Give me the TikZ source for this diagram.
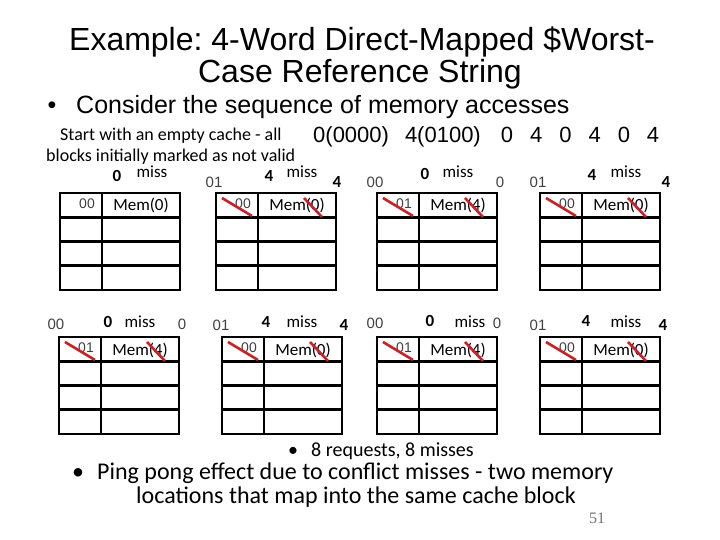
\documentclass[tikz,border=0pt]{standalone}
\usepackage{fontspec}
\setmainfont{Liberation Sans}
\newfontfamily\calib{Carlito}
\newfontfamily\pagefont{Liberation Serif}
\usetikzlibrary{positioning,calc}
\definecolor{strikered}{RGB}{204,32,39}
\frenchspacing

\begin{document}
\begin{tikzpicture}[x=1pt,y=-1pt,
  cachegrid/.style={line width=2.6pt},
  strike/.style={line width=2.6pt,draw=strikered},
  titletxt/.style={font=\fontsize{32}{36}\selectfont,anchor=base,inner sep=0pt},
  point/.style={font=\fontsize{25}{28}\selectfont,anchor=base west,inner sep=0pt},
  note/.style={font=\calib\fontsize{18}{20}\selectfont,anchor=base west,inner sep=0pt},
  seqtxt/.style={font=\fontsize{22}{24}\selectfont,anchor=base west,inner sep=0pt},
  tagtxt/.style={font=\fontsize{14}{14}\selectfont,text=black!75,anchor=base east,inner sep=0pt},
  memtxt/.style={font=\calib\fontsize{17}{17}\selectfont,anchor=base,inner sep=0pt},
  addr/.style={font=\calib\bfseries\fontsize{17}{17}\selectfont,anchor=base,inner sep=0pt},
  misstxt/.style={font=\calib\fontsize{17}{17}\selectfont,anchor=base,inner sep=0pt},
  idx/.style={font=\fontsize{15}{15}\selectfont,text=black!75,anchor=base,inner sep=0pt},
  summary/.style={font=\calib\fontsize{24}{26}\selectfont,inner sep=0pt}
]
\useasboundingbox (0,0) rectangle (720,540);

% title and the access sequence
\node[titletxt] (title1) at (362,51) {Example: 4-Word Direct-Mapped \$Worst-};
\node[titletxt] (title2) at (360,83) {Case Reference String};
\node[point,anchor=base] (dot1) at (52,114) {•};
\node[point] (consider) at (76,114) {Consider the sequence of memory accesses};
\node[note] (start) at (60,141) {Start with an empty cache - all};
\node[note] (blocks) at (46,162) {blocks initially marked as not valid};
\node[seqtxt] (seq) at (313,143) {0(0000)\hspace{16pt}4(0100)\hspace{20pt}0\hspace{17pt}4\hspace{17pt}0\hspace{17pt}4\hspace{17pt}0\hspace{17pt}4};

% eight cache snapshots: name/left/top/tag/block
\foreach \n/\l/\t/\tg/\m in {1/60/193/00/0, 2/216/193/00/0, 3/377/193/01/4, 4/540/193/00/0,
                             5/59/337/01/4, 6/222/337/00/0, 7/377/337/01/4, 8/540/337/00/0}{
  \coordinate (g\n) at (\l,\t);
  \draw[cachegrid] (g\n) rectangle ++(120,97);
  \draw[cachegrid] ($(g\n)+(42,0)$) -- ++(0,97);
  \foreach \r in {1,2,3}
    \draw[cachegrid] ($(g\n)+(0,24.25*\r)$) -- ++(120,0);
  \node[tagtxt] (tag\n) at ($(g\n)+(35,15)$) {\tg};
  \node[memtxt] (mem\n) at ($(g\n)+(81,18)$) {Mem(\m)};
}
% replaced entries
\foreach \n in {2,...,8}{
  \draw[strike] ($(g\n)+(6,5)$) -- ($(g\n)+(36,23)$);
  \draw[strike] ($(g\n)+(88,5)$) -- ($(g\n)+(106,24)$);
}

% labels over each snapshot
\node[addr] (req1) at (117,182) {0};
\node[misstxt] (miss1) at (152,178) {miss};
\foreach \n/\lx/\lt/\ax/\a/\mx/\rx/\rt/\rs/\ty/\by/\my in {
    2/214/01/269/4/302/337/4/addr/188/182/178,
    3/375/00/425/0/458/500/0/idx/188/180/178,
    4/538/01/592/4/626/666/4/addr/188/181/178,
    5/56/00/108/0/140/182/0/idx/329/327/327,
    6/221/01/266/4/302/344/4/addr/330/327/327,
    7/375/00/430/0/470/497/0/idx/328/326/327,
    8/538/01/586/4/626/663/4/addr/330/326/327}{
  \node[idx] (old\n) at (\lx,\ty) {\lt};
  \node[addr] (req\n) at (\ax,\by) {\a};
  \node[misstxt] (miss\n) at (\mx,\my) {miss};
  \node[\rs] (prev\n) at (\rx,\ty) {\rt};
}

% conclusions
\node[summary,font=\calib\fontsize{20}{22}\selectfont,anchor=base] (dot2) at (293,456) {•};
\node[summary,font=\calib\fontsize{20}{22}\selectfont,anchor=base west] (count) at (311,456) {8 requests, 8 misses};
\node[summary,anchor=base] (dot3) at (78,479) {•};
\node[summary,anchor=base west] (pingpong) at (97,479) {Ping pong effect due to conflict misses - two memory};
\node[summary,anchor=base] (locations) at (356,503) {locations that map into the same cache block};
\node[font=\pagefont\fontsize{16}{16}\selectfont,text=black!55,anchor=base,inner sep=0pt] (page) at (597,523) {51};
\end{tikzpicture}
\end{document}
